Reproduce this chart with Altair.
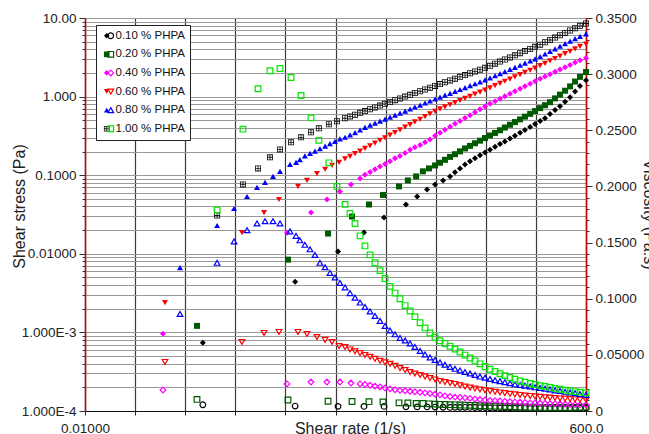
import altair as alt
import pandas as pd
import numpy as np

# ---------------- data ----------------
conc_labels = ["0.10 % PHPA", "0.20 % PHPA", "0.40 % PHPA",
               "0.60 % PHPA", "0.80 % PHPA", "1.00 % PHPA"]

# shear rates (1/s) of the dense part of the ramp
grid_rates = [1.12, 1.25, 1.40, 1.56, 1.74, 1.95, 2.17, 2.42, 2.70, 3.02,
              3.37, 3.76, 4.20, 4.68, 5.23, 5.83, 6.51, 7.27, 8.11, 9.05,
              10.1, 11.3, 12.6, 14.0, 15.7, 17.5, 19.5, 21.8, 24.3, 27.1,
              30.3, 33.8, 37.7, 42.1, 47.0, 52.4, 58.5, 65.3, 72.9, 81.4,
              90.8, 101, 113, 126, 141, 157, 176, 196, 219, 244,
              272, 304, 339, 379, 423, 472, 526, 600]

# ---- 0.10 % PHPA
rates_010 = [0.133, 1.01, 2.59, 4.58, 7.11, 11.5, 14.7, 18.3, 21.8, 26.0, 30.3] + grid_rates[31:]
stress_010 = [0.000737, 0.00442, 0.0107, 0.0186, 0.0290, 0.0424, 0.0536, 0.0659, 0.0763, 0.0858, 0.0965] + \
             [0.109, 0.122, 0.137, 0.150, 0.164, 0.179, 0.195, 0.211, 0.230,
              0.249, 0.269, 0.292, 0.318, 0.346, 0.377, 0.411, 0.447, 0.490, 0.532,
              0.600, 0.673, 0.754, 0.861, 0.982, 1.158, 1.365, 1.609]
visc_010 = [0.00552, 0.00439, 0.00412, 0.00407, 0.00407, 0.00368, 0.00366, 0.00361, 0.00350, 0.00330, 0.00318] + \
           [0.00321, 0.00324, 0.00326, 0.00319, 0.00313, 0.00306, 0.00299, 0.00290, 0.00282,
            0.00274, 0.00266, 0.00258, 0.00252, 0.00246, 0.00240, 0.00233, 0.00228, 0.00224, 0.00218,
            0.00221, 0.00221, 0.00222, 0.00227, 0.00232, 0.00245, 0.00260, 0.00268]

# ---- 0.20 % PHPA
rates_020 = [0.117, 0.863, 2.08, 3.52, 5.11, 6.95, 9.88, 12.0, 14.4, 16.7, 19.1] + grid_rates[27:]
stress_020 = [0.00121, 0.00843, 0.0181, 0.0298, 0.0424, 0.0561, 0.0720, 0.0858, 0.0965, 0.112, 0.122] + \
             [0.133, 0.144, 0.157, 0.171, 0.185, 0.201, 0.219, 0.236, 0.255, 0.275, 0.297,
              0.320, 0.345, 0.373, 0.404, 0.438, 0.474, 0.513, 0.556, 0.603, 0.655,
              0.713, 0.777, 0.849, 0.949, 1.060, 1.189, 1.349, 1.553, 1.783, 2.053]
visc_020 = [0.0103, 0.0098, 0.0087, 0.0085, 0.0083, 0.0081, 0.0073, 0.0071, 0.0067, 0.0067, 0.0064] + \
           [0.00612, 0.00594, 0.00578, 0.00563, 0.00548, 0.00534, 0.00520, 0.00503, 0.00487, 0.00469, 0.00455,
            0.00439, 0.00424, 0.00411, 0.00400, 0.00388, 0.00376, 0.00364, 0.00354, 0.00343, 0.00334,
            0.00326, 0.00318, 0.00312, 0.00312, 0.00313, 0.00314, 0.00319, 0.00329, 0.00339, 0.00342]

# ---- 0.40 % PHPA
rates_040 = [0.0554, 0.845, 1.43, 2.03, 2.70, 3.44, 4.20] + grid_rates[13:]
stress_040 = [0.000959, 0.0186, 0.0335, 0.0491, 0.0621, 0.0763, 0.0910] + \
             [0.101, 0.110, 0.119, 0.129, 0.139, 0.150, 0.164,
              0.176, 0.192, 0.210, 0.226, 0.243, 0.263, 0.284, 0.318,
              0.348, 0.379, 0.413, 0.450, 0.490, 0.533, 0.581, 0.632, 0.689, 0.750,
              0.812, 0.874, 0.940, 1.012, 1.089, 1.172, 1.261, 1.357, 1.461, 1.572,
              1.687, 1.804, 1.931, 2.066, 2.210, 2.364, 2.530, 2.706, 2.895, 3.098]
visc_040 = [0.0187, 0.0241, 0.0258, 0.0258, 0.0258, 0.0249, 0.0241] + \
           [0.0236, 0.0229, 0.0221, 0.0214, 0.0206, 0.0197, 0.0189,
            0.0184, 0.0180, 0.0176, 0.0171, 0.0167, 0.0162, 0.0156, 0.0150,
            0.0143, 0.0135, 0.0129, 0.0124, 0.0120, 0.0117, 0.0112, 0.0107, 0.0102, 0.0098,
            0.0095, 0.0092, 0.0089, 0.0086, 0.0084, 0.0081, 0.0078, 0.0076, 0.0073, 0.0071,
            0.0069, 0.0068, 0.0066, 0.0064, 0.0062, 0.0061, 0.0059, 0.0057, 0.0055, 0.0053]

# ---- 0.60 % PHPA
rates_060 = [0.0579, 0.314, 0.510, 0.708, 1.075, 1.31, 1.63, 1.95, 2.27, 2.65] + grid_rates[9:]
stress_060 = [0.00239, 0.0186, 0.0335, 0.0491, 0.0720, 0.0858, 0.105, 0.119, 0.133, 0.146] + \
             [0.161, 0.174, 0.188, 0.203, 0.220, 0.237, 0.256, 0.277, 0.299, 0.324, 0.349,
              0.377, 0.408, 0.441, 0.477, 0.515, 0.556, 0.602, 0.649, 0.697, 0.741,
              0.788, 0.839, 0.892, 0.949, 1.009, 1.073, 1.141, 1.214, 1.291, 1.377,
              1.469, 1.567, 1.672, 1.783, 1.903, 2.030, 2.165, 2.309, 2.471, 2.651,
              2.846, 3.053, 3.277, 3.515, 3.772, 4.047, 4.343, 4.659]
visc_060 = [0.0437, 0.0615, 0.0695, 0.0704, 0.0704, 0.0686, 0.0659, 0.0633, 0.0615, 0.0579] + \
           [0.0570, 0.0548, 0.0532, 0.0515, 0.0499, 0.0483, 0.0465, 0.0447, 0.0433, 0.0421, 0.0403,
            0.0383, 0.0365, 0.0347, 0.0334, 0.0321, 0.0307, 0.0294, 0.0281, 0.0267, 0.0258,
            0.0249, 0.0241, 0.0229, 0.0218, 0.0208, 0.0200, 0.0192, 0.0185, 0.0178, 0.0171,
            0.0165, 0.0159, 0.0153, 0.0148, 0.0143, 0.0138, 0.0134, 0.0130, 0.0126, 0.0122,
            0.0119, 0.0116, 0.0112, 0.0110, 0.0106, 0.0103, 0.0101, 0.0098]

# ---- 0.80 % PHPA
rates_080 = [0.0806, 0.182, 0.264, 0.351, 0.437, 0.521, 0.621, 0.724, 0.902, 1.03] + grid_rates[0:]
stress_080 = [0.00667, 0.0229, 0.0377, 0.0536, 0.0699, 0.0809, 0.0965, 0.112, 0.137, 0.146] + \
             [0.158, 0.176, 0.190, 0.202, 0.218, 0.234, 0.252, 0.270, 0.290, 0.304,
              0.325, 0.349, 0.376, 0.405, 0.434, 0.461, 0.488, 0.518, 0.549, 0.582,
              0.618, 0.655, 0.695, 0.737, 0.781, 0.829, 0.879, 0.932, 0.985, 1.042,
              1.102, 1.165, 1.232, 1.303, 1.377, 1.457, 1.540, 1.628, 1.732, 1.842,
              1.959, 2.084, 2.216, 2.357, 2.507, 2.667, 2.836, 3.017, 3.237, 3.484,
              3.762, 4.059, 4.369, 4.716, 5.089, 5.462, 5.843, 6.269]
visc_080 = [0.0864, 0.132, 0.151, 0.161, 0.167, 0.169, 0.169, 0.167, 0.160, 0.156] + \
           [0.152, 0.148, 0.144, 0.139, 0.132, 0.128, 0.123, 0.119, 0.114, 0.110,
            0.105, 0.101, 0.0966, 0.0927, 0.0886, 0.0846, 0.0802, 0.0757, 0.0717, 0.0683,
            0.0650, 0.0628, 0.0601, 0.0570, 0.0535, 0.0503, 0.0477, 0.0454, 0.0432, 0.0412,
            0.0392, 0.0376, 0.0361, 0.0347, 0.0334, 0.0321, 0.0307, 0.0296, 0.0285, 0.0274,
            0.0266, 0.0256, 0.0247, 0.0238, 0.0232, 0.0225, 0.0218, 0.0211, 0.0205, 0.0198,
            0.0192, 0.0184, 0.0178, 0.0171, 0.0165, 0.0159, 0.0151, 0.0144]

# ---- 1.00 % PHPA
rates_100 = [0.182, 0.321, 0.447, 0.581, 0.724, 0.922, 1.15, 1.43, 1.70, 2.12, 2.53, 3.02] + grid_rates[10:]
stress_100 = [0.0307, 0.0763, 0.122, 0.169, 0.213, 0.262, 0.303, 0.351, 0.395, 0.445, 0.486, 0.530] + \
             [0.559, 0.589, 0.621, 0.655, 0.691, 0.728, 0.768, 0.809, 0.853, 0.900,
              0.948, 1.000, 1.054, 1.111, 1.169, 1.232, 1.299, 1.369, 1.443, 1.522,
              1.605, 1.691, 1.783, 1.880, 1.982, 2.090, 2.203, 2.323, 2.464, 2.621,
              2.787, 2.965, 3.153, 3.354, 3.567, 3.794, 4.035, 4.292, 4.578, 4.914,
              5.256, 5.641, 6.034, 6.455, 6.928, 7.411, 7.952, 8.508]
visc_100 = [0.179, 0.251, 0.287, 0.303, 0.305, 0.297, 0.281, 0.261, 0.241, 0.221, 0.200, 0.184] + \
           [0.176, 0.167, 0.156, 0.147, 0.139, 0.132, 0.125, 0.118, 0.111, 0.105,
            0.100, 0.0939, 0.0891, 0.0840, 0.0786, 0.0740, 0.0695, 0.0657, 0.0626, 0.0601,
            0.0576, 0.0551, 0.0525, 0.0498, 0.0472, 0.0446, 0.0420, 0.0394, 0.0372, 0.0352,
            0.0332, 0.0315, 0.0298, 0.0283, 0.0267, 0.0257, 0.0246, 0.0236, 0.0226, 0.0218,
            0.0210, 0.0201, 0.0194, 0.0186, 0.0178, 0.0173, 0.0168, 0.0162]

# axis tick labels
x_end_labels = ["0.01000", "600.0"]
stress_exponents = [-4, -3, -2, -1, 0, 1]
stress_labels = ["1.000E-4", "1.000E-3", "0.01000", "0.1000", "1.000", "10.00"]
visc_major_hundredths = [0, 5, 10, 15, 20, 25, 30, 35]
visc_labels = ["0", "0.05000", "0.1000", "0.1500", "0.2000", "0.2500", "0.3000", "0.3500"]

# styles
stress_colors = ["#000000", "#005a00", "#ff00ff", "#ff0000", "#0000ff", "#111111"]
visc_colors = ["#000000", "#005a00", "#ff00ff", "#ff0000", "#0000ff", "#00e600"]
grid_square = ("M-1,-1L1,-1L1,1L-1,1Z "
               "M-0.72,-0.72L-0.72,-0.14L-0.14,-0.14L-0.14,-0.72Z "
               "M0.14,-0.72L0.14,-0.14L0.72,-0.14L0.72,-0.72Z "
               "M-0.72,0.14L-0.72,0.72L-0.14,0.72L-0.14,0.14Z "
               "M0.14,0.14L0.14,0.72L0.72,0.72L0.72,0.14Z")
stress_shapes = ["diamond", "square", "diamond", "triangle-down", "triangle-up", grid_square]
visc_shapes = ["circle", "square", "diamond", "triangle-down", "triangle-up", "square"]

# ---------------- table ----------------
all_series = [(rates_010, stress_010, visc_010), (rates_020, stress_020, visc_020),
              (rates_040, stress_040, visc_040), (rates_060, stress_060, visc_060),
              (rates_080, stress_080, visc_080), (rates_100, stress_100, visc_100)]
rows = []
for lab, (r, s, v) in zip(conc_labels, all_series):
    assert len(r) == len(s) == len(v), (lab, len(r), len(s), len(v))
    for a, b, c in zip(r, s, v):
        rows.append({"series": lab, "rate": a, "stress": b, "visc": c})
df = pd.DataFrame(rows)

FONT = "Liberation Sans"

# ---------------- axes ----------------
x_ticks = [float(t) for t in np.logspace(np.log10(0.01), np.log10(600), 11)]
x_axis = alt.Axis(
    values=x_ticks,
    labelExpr=f"datum.value < 0.011 ? '{x_end_labels[0]}' : (datum.value > 590 ? '{x_end_labels[1]}' : '')",
    labelFlush=False, labelOverlap=False, labelFontSize=13.5, labelPadding=6,
    grid=True, gridColor="#3a3a3a", gridWidth=1.2,
    tickSize=4, tickColor="#222222", domainColor="#111111", domainWidth=1.2,
    title="Shear rate (1/s)", titleFontSize=16, titleFontWeight="normal",
    titleX=265, titleY=22, titleAlign="center", titleBaseline="alphabetic",
)

stress_ticks = [m * 10.0 ** e for e in range(-4, 1) for m in range(1, 10)] + [10.0]
lg = "log(datum.value)/LN10"
is_major = f"abs({lg} - round({lg})) < 0.001"
expr = "''"
for e, lab in zip(stress_exponents, stress_labels):
    expr = f"(round({lg}) == {e} ? '{lab}' : {expr})"
left_label_expr = f"{is_major} ? {expr} : ''"
y_left = alt.Axis(
    orient="left", values=stress_ticks, labelExpr=left_label_expr,
    labelOverlap=False, labelFontSize=13.5, labelPadding=3,
    grid=True, gridColor="#999999", gridWidth=1,
    tickSize={"condition": {"test": is_major, "value": 6}, "value": 3},
    tickColor="#333333", domainColor="#c00000", domainWidth=1.5,
    title="Shear stress (Pa)", titleFontSize=16, titleFontWeight="normal",
    titleX=-61, titleY=188, titleAngle=270, titleAlign="center", titleBaseline="alphabetic",
)

visc_ticks = [i / 100 for i in range(0, 36)]
vh = "round(datum.value*100)"
vexpr = "''"
for h, lab in zip(visc_major_hundredths, visc_labels):
    vexpr = f"({vh} == {h} ? '{lab}' : {vexpr})"
y_right = alt.Axis(
    orient="right", values=visc_ticks, labelExpr=vexpr,
    labelOverlap=False, labelFontSize=13.5, labelPadding=3,
    grid=False,
    tickSize={"condition": {"test": f"{vh} % 5 == 0", "value": 6}, "value": 3},
    tickColor="#333333", domainColor="#c00000", domainWidth=1.5,
    title="Viscosity (Pa.s)", titleFontSize=16, titleFontWeight="normal",
    titleX=57, titleY=196, titleAngle=90, titleAlign="center", titleBaseline="alphabetic",
)

x_enc = alt.X("rate:Q", scale=alt.Scale(type="log", domain=[0.01, 600], nice=False), axis=x_axis)

legend_common = dict(orient="none", legendX=11, legendY=7, direction="vertical",
                     padding=5, rowPadding=5.6, symbolSize=32, labelFontSize=11.5,
                     labelFont=FONT, labelColor="#111111")

# filled symbols + visible labels + box (drawn first)
legend_stress = alt.Legend(title=None, strokeColor="#222222", fillColor="white",
                           labelOffset=3, zindex=2, **legend_common)
# open symbols, shifted right of the filled ones, blank labels (drawn on top)
legend_visc = alt.Legend(title=None, labelOpacity=0, labelExpr="' '", labelOffset=2,
                         symbolOffset=4, symbolStrokeWidth=1.2, zindex=3, **legend_common)

stress_layer = alt.Chart(df).mark_point(filled=True, size=36, opacity=1).encode(
    x=x_enc,
    y=alt.Y("stress:Q", scale=alt.Scale(type="log", domain=[1e-4, 10], nice=False), axis=y_left),
    color=alt.Color("series:N", scale=alt.Scale(domain=conc_labels, range=stress_colors), legend=legend_stress),
    shape=alt.Shape("series:N", scale=alt.Scale(domain=conc_labels, range=stress_shapes), legend=legend_stress),
)

visc_layer = alt.Chart(df).mark_point(filled=False, size=32, strokeWidth=1.2, opacity=1).encode(
    x=x_enc,
    y=alt.Y("visc:Q", scale=alt.Scale(type="linear", domain=[0, 0.35], nice=False, zero=True), axis=y_right),
    color=alt.Color("series:N", scale=alt.Scale(domain=conc_labels, range=visc_colors), legend=legend_visc),
    shape=alt.Shape("series:N", scale=alt.Scale(domain=conc_labels, range=visc_shapes), legend=legend_visc),
)

chart = alt.layer(stress_layer, visc_layer).resolve_scale(
    y="independent", color="independent", shape="independent"
).properties(
    width=501, height=393,
    padding={"left": 85, "top": 18, "right": 63, "bottom": 23},
    autosize=alt.AutoSizeParams(type="none"),
    background="white",
).configure_axis(
    labelFont=FONT, titleFont=FONT, labelColor="#222222", titleColor="#222222",
).configure_view(stroke=None)

chart.save("out.html", embed_options={"renderer": "svg", "actions": False})
